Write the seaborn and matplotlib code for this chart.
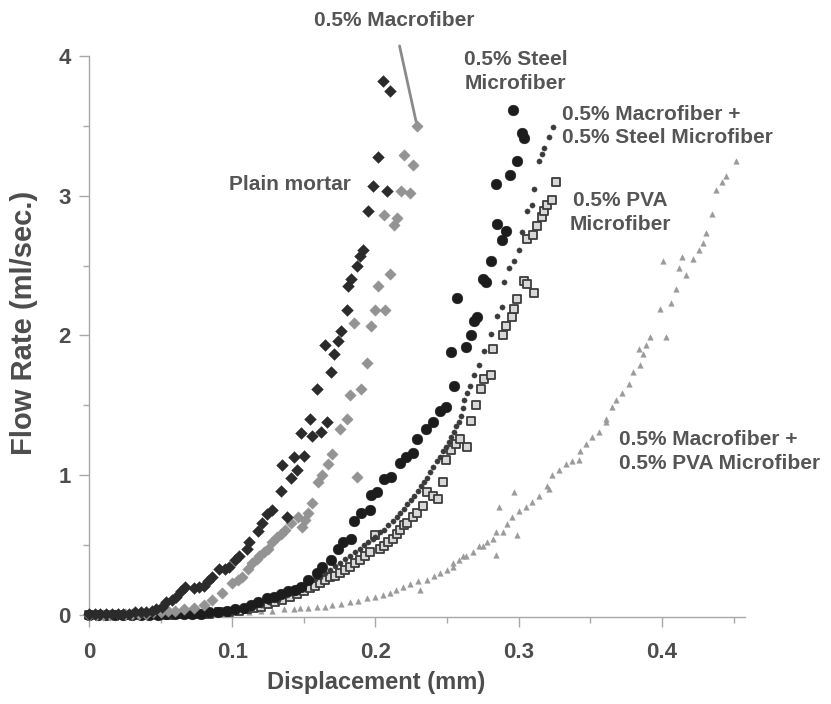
import matplotlib
matplotlib.use("Agg")
import matplotlib.pyplot as plt
import seaborn as sns
import pandas as pd
from matplotlib.ticker import MultipleLocator

# ---------------- data ----------------
plain_x = [0.000,0.004,0.008,0.012,0.016,0.020,0.024,0.028,0.032,0.036,0.040,0.044,0.047,0.051,0.054,0.058,0.061,0.064,0.067,0.073,0.077,0.080,0.083,0.086,0.091,0.095,0.098,0.102,0.105,0.110,0.112,0.118,0.121,0.124,0.128,0.134,0.135,0.138,0.141,0.143,0.145,0.148,0.150,0.154,0.156,0.159,0.162,0.165,0.166,0.169,0.171,0.174,0.176,0.180,0.181,0.183,0.187,0.189,0.191,0.195,0.198,0.202,0.205,0.208,0.210]
plain_y = [0.01,0.01,0.01,0.01,0.01,0.01,0.01,0.01,0.02,0.02,0.02,0.03,0.04,0.06,0.09,0.11,0.13,0.17,0.20,0.19,0.20,0.21,0.24,0.27,0.33,0.33,0.34,0.39,0.42,0.47,0.52,0.60,0.66,0.72,0.75,0.89,1.07,0.70,0.98,1.13,1.04,1.30,1.14,1.40,1.28,1.62,1.31,1.93,1.38,1.74,1.87,1.96,2.03,2.18,2.35,2.40,2.50,2.57,2.61,2.89,3.07,3.28,3.82,3.03,3.75]

macro_x = [0.000,0.005,0.010,0.015,0.020,0.025,0.030,0.035,0.040,0.045,0.050,0.055,0.060,0.066,0.073,0.080,0.086,0.093,0.100,0.104,0.107,0.111,0.114,0.117,0.119,0.122,0.125,0.128,0.131,0.134,0.137,0.141,0.146,0.149,0.151,0.153,0.156,0.160,0.163,0.167,0.170,0.175,0.180,0.182,0.185,0.187,0.190,0.194,0.197,0.200,0.202,0.206,0.207,0.210,0.213,0.215,0.218,0.220,0.224,0.226,0.229]
macro_y = [0.00,0.00,0.00,0.00,0.01,0.01,0.01,0.01,0.01,0.02,0.02,0.03,0.03,0.04,0.05,0.07,0.11,0.16,0.23,0.25,0.27,0.33,0.37,0.40,0.42,0.45,0.47,0.52,0.56,0.58,0.61,0.66,0.70,0.63,0.68,0.73,0.80,0.95,1.00,1.08,1.15,1.33,1.40,1.57,2.09,0.99,1.62,1.80,2.07,2.18,2.35,2.86,2.18,2.44,2.79,2.84,3.03,3.29,3.02,3.22,3.50]

steel_x = [0.000,0.006,0.012,0.018,0.024,0.030,0.036,0.042,0.048,0.054,0.060,0.066,0.072,0.078,0.084,0.090,0.096,0.102,0.108,0.113,0.118,0.124,0.129,0.134,0.139,0.144,0.148,0.153,0.159,0.163,0.169,0.174,0.177,0.183,0.185,0.190,0.196,0.197,0.201,0.206,0.211,0.217,0.221,0.226,0.229,0.235,0.240,0.245,0.249,0.253,0.255,0.257,0.263,0.267,0.269,0.271,0.275,0.277,0.281,0.284,0.285,0.288,0.291,0.294,0.296,0.299,0.302,0.304]
steel_y = [0.00,0.00,0.00,0.00,0.00,0.00,0.00,0.00,0.00,0.01,0.01,0.01,0.01,0.01,0.02,0.02,0.03,0.04,0.05,0.07,0.09,0.12,0.13,0.15,0.17,0.18,0.20,0.25,0.30,0.34,0.39,0.47,0.52,0.54,0.67,0.73,0.75,0.86,0.88,0.97,0.99,1.09,1.13,1.16,1.26,1.33,1.38,1.46,1.49,1.88,1.64,2.27,1.92,2.00,2.10,2.13,2.40,2.38,2.53,3.08,2.80,2.68,2.75,3.15,3.61,3.25,3.45,3.41]

macsteel_x = [0.000,0.006,0.012,0.018,0.024,0.030,0.036,0.042,0.048,0.054,0.060,0.066,0.072,0.078,0.084,0.090,0.096,0.102,0.108,0.114,0.120,0.126,0.132,0.138,0.143,0.147,0.151,0.154,0.158,0.161,0.165,0.168,0.172,0.175,0.179,0.182,0.186,0.189,0.192,0.195,0.198,0.200,0.203,0.206,0.209,0.212,0.215,0.217,0.220,0.222,0.225,0.227,0.230,0.232,0.234,0.236,0.238,0.240,0.243,0.245,0.247,0.249,0.251,0.253,0.255,0.256,0.258,0.260,0.261,0.262,0.264,0.266,0.269,0.272,0.276,0.281,0.285,0.288,0.290,0.293,0.297,0.300,0.302,0.306,0.309,0.311,0.314,0.316,0.318,0.321,0.324]
macsteel_y = [0.00,0.00,0.00,0.00,0.00,0.00,0.00,0.00,0.00,0.00,0.01,0.01,0.01,0.01,0.01,0.02,0.02,0.03,0.04,0.05,0.07,0.09,0.11,0.14,0.16,0.19,0.22,0.24,0.26,0.27,0.30,0.32,0.35,0.37,0.40,0.42,0.45,0.47,0.50,0.52,0.54,0.56,0.59,0.61,0.64,0.67,0.70,0.73,0.76,0.79,0.82,0.85,0.89,0.92,0.95,0.98,1.02,1.06,1.10,1.13,1.17,1.20,1.24,1.27,1.31,1.35,1.38,1.42,1.48,1.54,1.59,1.64,1.72,1.79,1.89,2.01,2.14,2.20,2.38,2.48,2.53,2.61,2.74,2.89,2.93,3.05,3.25,3.30,3.34,3.42,3.49]

pva_x = [0.000,0.007,0.014,0.021,0.028,0.035,0.042,0.049,0.056,0.063,0.070,0.077,0.084,0.091,0.098,0.105,0.110,0.115,0.120,0.125,0.130,0.135,0.140,0.145,0.150,0.154,0.158,0.161,0.165,0.168,0.172,0.175,0.179,0.182,0.186,0.189,0.193,0.196,0.200,0.203,0.206,0.209,0.212,0.215,0.217,0.220,0.222,0.226,0.229,0.233,0.236,0.240,0.244,0.247,0.249,0.253,0.256,0.259,0.264,0.267,0.270,0.274,0.276,0.281,0.282,0.289,0.291,0.295,0.297,0.299,0.304,0.306,0.306,0.310,0.311,0.313,0.316,0.318,0.320,0.323,0.326]
pva_y = [0.00,0.00,0.00,0.00,0.00,0.00,0.00,0.00,0.00,0.01,0.01,0.01,0.01,0.02,0.02,0.03,0.04,0.05,0.06,0.08,0.09,0.11,0.13,0.15,0.17,0.19,0.21,0.23,0.25,0.27,0.28,0.30,0.32,0.34,0.37,0.39,0.42,0.45,0.57,0.47,0.49,0.52,0.54,0.58,0.61,0.64,0.66,0.70,0.73,0.78,0.88,0.85,0.83,0.95,1.11,1.18,1.22,1.26,1.20,1.39,1.50,1.62,1.69,1.72,1.90,2.00,2.07,2.13,2.19,2.26,2.39,2.37,2.69,2.72,2.30,2.78,2.85,2.89,2.93,2.97,3.10]

macpva_x = [0.000,0.008,0.016,0.024,0.032,0.040,0.048,0.056,0.064,0.072,0.080,0.088,0.096,0.104,0.112,0.120,0.128,0.136,0.143,0.147,0.153,0.159,0.165,0.170,0.176,0.182,0.188,0.194,0.200,0.205,0.210,0.214,0.219,0.224,0.231,0.230,0.236,0.241,0.245,0.250,0.254,0.254,0.258,0.261,0.263,0.268,0.272,0.275,0.278,0.282,0.284,0.284,0.286,0.289,0.292,0.295,0.297,0.299,0.300,0.305,0.309,0.314,0.320,0.321,0.323,0.328,0.333,0.337,0.342,0.343,0.347,0.351,0.356,0.361,0.361,0.365,0.368,0.372,0.377,0.380,0.385,0.384,0.387,0.389,0.392,0.399,0.401,0.403,0.406,0.410,0.412,0.414,0.417,0.422,0.426,0.429,0.431,0.435,0.438,0.442,0.445,0.452]
macpva_y = [0.00,0.00,0.00,0.00,0.00,0.00,0.00,0.00,0.00,0.00,0.01,0.01,0.01,0.02,0.02,0.03,0.03,0.04,0.04,0.05,0.05,0.06,0.06,0.07,0.08,0.09,0.10,0.12,0.13,0.14,0.16,0.18,0.20,0.22,0.18,0.24,0.25,0.28,0.30,0.32,0.34,0.37,0.39,0.42,0.42,0.45,0.49,0.49,0.52,0.54,0.43,0.59,0.77,0.59,0.65,0.70,0.88,0.57,0.74,0.77,0.81,0.85,0.92,0.90,1.00,1.04,1.08,1.10,1.11,1.17,1.22,1.27,1.31,1.38,1.40,1.49,1.54,1.59,1.65,1.74,1.79,1.90,1.87,1.93,1.99,2.19,2.53,1.99,2.23,2.33,2.48,2.56,2.43,2.55,2.61,2.66,2.73,2.87,3.04,3.10,3.14,3.25]

x_ticks = [0, 0.1, 0.2, 0.3, 0.4]
x_tick_labels = ["0", "0.1", "0.2", "0.3", "0.4"]
y_ticks = [0, 1, 2, 3, 4]
y_tick_labels = ["0", "1", "2", "3", "4"]

# ---------------- figure ----------------
sns.set_theme(style="white")
plt.rcParams['font.family'] = ['Liberation Sans', 'DejaVu Sans']

fig = plt.figure(figsize=(8.31, 7.04), dpi=100)
ax = fig.add_axes([89/831, 87/704, (745-89)/831, (617-58)/704 + 0.003])

TXT = "#4d4d4d"

def sc(x, y, **kw):
    df = pd.DataFrame({"x": x, "y": y})
    sns.scatterplot(data=df, x="x", y="y", ax=ax, legend=False, clip_on=False, **kw)

sc(macpva_x, macpva_y, marker="^", s=16, color="#9a9a9a", edgecolor="#9a9a9a", linewidth=0.3, zorder=2)
sc(pva_x, pva_y, marker="s", s=30, color="#d8d8d8", edgecolor="#3c3c3c", linewidth=1.3, zorder=3)
sc(macsteel_x, macsteel_y, marker="o", s=14, color="#3a3a3a", edgecolor="#3a3a3a", linewidth=0.3, zorder=4)
sc(steel_x, steel_y, marker="o", s=60, color="#1c1c1c", edgecolor="#1c1c1c", linewidth=0.3, zorder=5)
sc(macro_x, macro_y, marker="D", s=34, color="#939393", edgecolor="#939393", linewidth=0.3, zorder=6)
sc(plain_x, plain_y, marker="D", s=36, color="#2b2b2b", edgecolor="#2b2b2b", linewidth=0.3, zorder=7)

ax.set_xlim(0, 0.458)
ax.set_ylim(-0.015, 4)

ax.set_xticks(x_ticks)
ax.set_xticklabels(x_tick_labels)
ax.set_yticks(y_ticks)
ax.set_yticklabels(y_tick_labels)
ax.xaxis.set_minor_locator(MultipleLocator(0.05))
ax.yaxis.set_minor_locator(MultipleLocator(0.5))

for side in ["top", "right"]:
    ax.spines[side].set_visible(False)
for side in ["left", "bottom"]:
    ax.spines[side].set_color("#a8a8a8")
    ax.spines[side].set_linewidth(1.0)

ax.tick_params(which="major", direction="out", length=7, width=1, color="#a8a8a8",
               labelsize=16, labelcolor=TXT)
ax.tick_params(axis="x", which="major", pad=11)
ax.tick_params(axis="y", which="major", pad=6)
ax.tick_params(which="minor", direction="out", length=4, width=1, color="#a8a8a8")
ax.tick_params(axis="x", which="both", bottom=True)
ax.tick_params(axis="y", which="both", left=True)
for lab in ax.get_xticklabels() + ax.get_yticklabels():
    lab.set_fontweight("bold")

ax.set_xlabel("Displacement (mm)", fontsize=17, fontweight="bold", color=TXT)
ax.xaxis.set_label_coords(0.4375, -0.097)
ax.set_ylabel("Flow Rate (ml/sec.)", fontsize=21, fontweight="bold", color=TXT)
ax.yaxis.set_label_coords(-0.078, 0.524)

tk = dict(fontsize=15, fontweight="bold", color="#555555", annotation_clip=False)

ax.annotate("0.5% Macrofiber", xy=(0.229, 3.50), xytext=(0.213, 4.25),
            ha="center", va="center",
            arrowprops=dict(arrowstyle="-", color="#8a8a8a", lw=2,
                            shrinkA=9, shrinkB=3), **tk)
ax.annotate("0.5% Steel\nMicrofiber", xy=(0.262, 3.89), ha="left", va="center",
            linespacing=1.35, **tk)
ax.annotate("0.5% Macrofiber +\n0.5% Steel Microfiber", xy=(0.330, 3.50), ha="left", va="center",
            linespacing=1.3, **tk)
ax.annotate("0.5% PVA\nMicrofiber", xy=(0.371, 2.88), ha="center", va="center",
            linespacing=1.35, **tk)
ax.annotate("0.5% Macrofiber +\n0.5% PVA Microfiber", xy=(0.370, 1.17), ha="left", va="center",
            linespacing=1.35, **tk)
ax.annotate("Plain mortar", xy=(0.183, 3.08), ha="right", va="center", **tk)

fig.savefig("out.png", dpi=100, facecolor="white")
